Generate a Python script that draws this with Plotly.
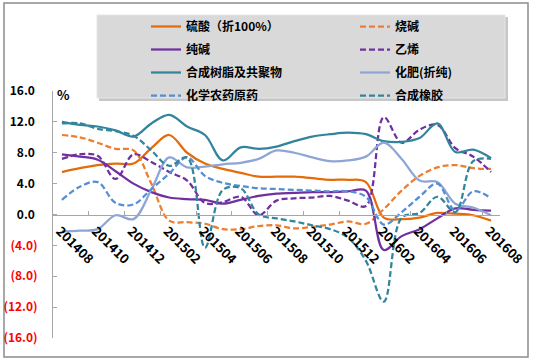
import plotly.graph_objects as go

months = ["201408", "201409", "201410", "201411", "201412", "201501", "201502", "201503",
          "201504", "201505", "201506", "201507", "201508", "201509", "201510", "201511",
          "201512", "201601", "201602", "201603", "201604", "201605", "201606", "201607",
          "201608"]

sulfuric_acid = [5.5, 6.0, 6.4, 6.6, 6.6, 8.6, 10.3, 8.0, 6.6, 5.9, 5.4, 4.9, 4.9, 4.9, 4.7, 4.5,
                 4.5, 4.2, -0.4, -0.6, -0.4, 0.2, 0.1, -0.1, -0.8]
caustic_soda = [10.3, 10.0, 9.3, 8.5, 8.3, 4.0, -0.8, -1.0, -1.2, -1.9, -1.9, -1.5, -1.4, -1.8,
                -1.6, -1.3, -0.9, -1.2, 0.7, 3.1, 5.0, 6.1, 6.4, 6.0, 5.9]
soda_ash = [7.8, 7.5, 7.1, 5.6, 4.0, 2.9, 2.2, 2.0, 1.9, 1.4, 1.9, 2.4, 2.7, 2.8, 2.9, 2.9,
            3.0, 3.1, -4.6, -2.8, -1.9, -0.5, 0.8, 0.6, 0.5]
ethylene = [7.2, 7.8, 7.6, 4.6, 7.8, 6.8, 5.5, 4.4, 1.5, 1.6, 2.3, -0.1, 1.8, 2.1, 2.2, 2.4,
            1.8, 1.1, 12.6, 9.3, 11.0, 11.6, 8.6, 7.5, 5.5]
resins = [12.0, 11.6, 11.4, 10.9, 10.1, 11.8, 12.9, 11.4, 10.3, 7.0, 8.7, 8.5, 8.8, 9.5, 10.1,
          10.4, 10.6, 10.4, 9.5, 9.4, 9.9, 11.8, 8.1, 8.4, 7.3]
fertilizer = [-2.2, -2.1, -1.9, -0.1, -0.6, 3.2, 7.4, 6.1, 6.2, 6.5, 6.7, 7.2, 8.3, 8.0, 7.4,
              6.9, 7.0, 7.5, 9.3, 7.2, 4.4, 4.2, 1.4, 0.9, -0.1]
pesticide = [1.9, 3.6, 4.2, 1.5, 1.3, 3.3, 5.3, 7.4, 5.0, 4.1, 3.7, 3.4, 3.3, 3.2, 3.1, 3.0,
             3.0, 2.3, -1.3, 0.3, 2.3, 4.0, 0.5, 3.0, 2.1]
rubber = [11.8, 11.8, 11.1, 10.8, 10.2, 8.3, 6.3, 7.4, -4.3, 3.2, 3.4, 0.0, -0.5, -0.9, -1.4,
          -1.9, -3.0, -6.0, -11.3, -0.4, 0.2, 2.3, 0.3, 6.9, 7.2]

series_names = ["硫酸（折100%）", "烧碱", "纯碱", "乙烯", "合成树脂及共聚物", "化肥(折纯)",
                "化学农药原药", "合成橡胶"]
series_values = [sulfuric_acid, caustic_soda, soda_ash, ethylene, resins, fertilizer,
                 pesticide, rubber]
series_colors = ["#E46C0A", "#ED7D31", "#7030A0", "#7030A0", "#31849B", "#8EA5D6",
                 "#558ED5", "#31859C"]
series_dash = ["solid", "6px,3px", "solid", "6px,3px", "solid", "solid", "6px,3px", "6px,3px"]

y_ticks = [16, 12, 8, 4, 0, -4, -8, -12, -16]


def fmt(v):
    if v < 0:
        return '<span style="color:#FF0000">(%.1f)</span>' % abs(v)
    return "%.1f\u00a0" % v


FONT = "Noto Sans CJK SC"

# plot area in pixels: x 53..500, y 91..338
W, H = 538, 364
L, R, T, B = 53, 38, 91, 26
pw, ph = W - L - R, H - T - B


def px(x):
    return (x - L) / pw


def py(y):
    return (H - B - y) / ph


fig = go.Figure()
for k, (name, vals, color, dash) in enumerate(zip(series_names, series_values,
                                                  series_colors, series_dash)):
    fig.add_trace(go.Scatter(
        x=months, y=vals, name=name, mode="lines",
        legend="legend" if k % 2 == 0 else "legend2",
        legendgroup="g%d" % k,
        line=dict(color=color, width=2.25, dash=dash, shape="spline", smoothing=1),
    ))

shapes = [
    # outer frame
    dict(type="rect", xref="paper", yref="paper", x0=px(4), x1=px(528), y0=py(3), y1=py(357),
         line=dict(color="#8C8C8C", width=1.5), fillcolor="rgba(0,0,0,0)", layer="below"),
    # legend shadow
    dict(type="rect", xref="paper", yref="paper", x0=px(99), x1=px(508), y0=py(17), y1=py(101),
         line=dict(width=0), fillcolor="rgba(0,0,0,0.22)", layer="above"),
    # legend box
    dict(type="rect", xref="paper", yref="paper", x0=px(97), x1=px(505), y0=py(15), y1=py(98),
         line=dict(color="#E6E6E6", width=1), fillcolor="#D9D9D9", layer="above"),
]

legend_common = dict(
    orientation="v", xanchor="left", yanchor="top",
    bgcolor="rgba(0,0,0,0)", borderwidth=0, tracegroupgap=4,
    font=dict(family=FONT, size=12, color="black", weight="bold"),
    traceorder="grouped",
)

fig.update_layout(
    width=W, height=H,
    margin=dict(l=L, r=R, t=T, b=B, pad=0, autoexpand=False),
    paper_bgcolor="white", plot_bgcolor="white",
    font=dict(family=FONT, size=12, color="black"),
    shapes=shapes,
    showlegend=True,
    legend=dict(x=px(146), y=py(12), **legend_common),
    legend2=dict(x=px(355), y=py(12), **legend_common),
    annotations=[dict(text="%", xref="paper", yref="paper", x=px(55), y=py(94),
                      xanchor="left", yanchor="middle", showarrow=False,
                      font=dict(family=FONT, size=13, color="black", weight="bold"))],
)

fig.update_xaxes(
    type="category", range=[-0.5, len(months) - 0.5],
    tickmode="array", tickvals=months[::2], ticktext=months[::2],
    tickson="boundaries", ticks="inside", ticklen=4, tickcolor="#A6A6A6",
    showline=True, linecolor="#A6A6A6", linewidth=1,
    anchor="free", position=0.5,
    tickangle=45, showgrid=False, zeroline=False, ticklabelshift=-2, ticklabelstandoff=3,
    tickfont=dict(family=FONT, size=13, color="black", weight="bold"),
)
fig.update_yaxes(
    range=[-16, 16], tickmode="array", tickvals=y_ticks,
    ticktext=[fmt(v) for v in y_ticks],
    ticks="inside", ticklen=4, tickcolor="#A6A6A6",
    showline=True, linecolor="#A6A6A6", linewidth=1,
    showgrid=False, zeroline=False, ticklabelstandoff=12,
    tickfont=dict(family=FONT, size=12, color="black", weight="bold"),
)

fig.write_html("out.html", config={"displayModeBar": False},
               post_script="document.body.style.margin='0';")
